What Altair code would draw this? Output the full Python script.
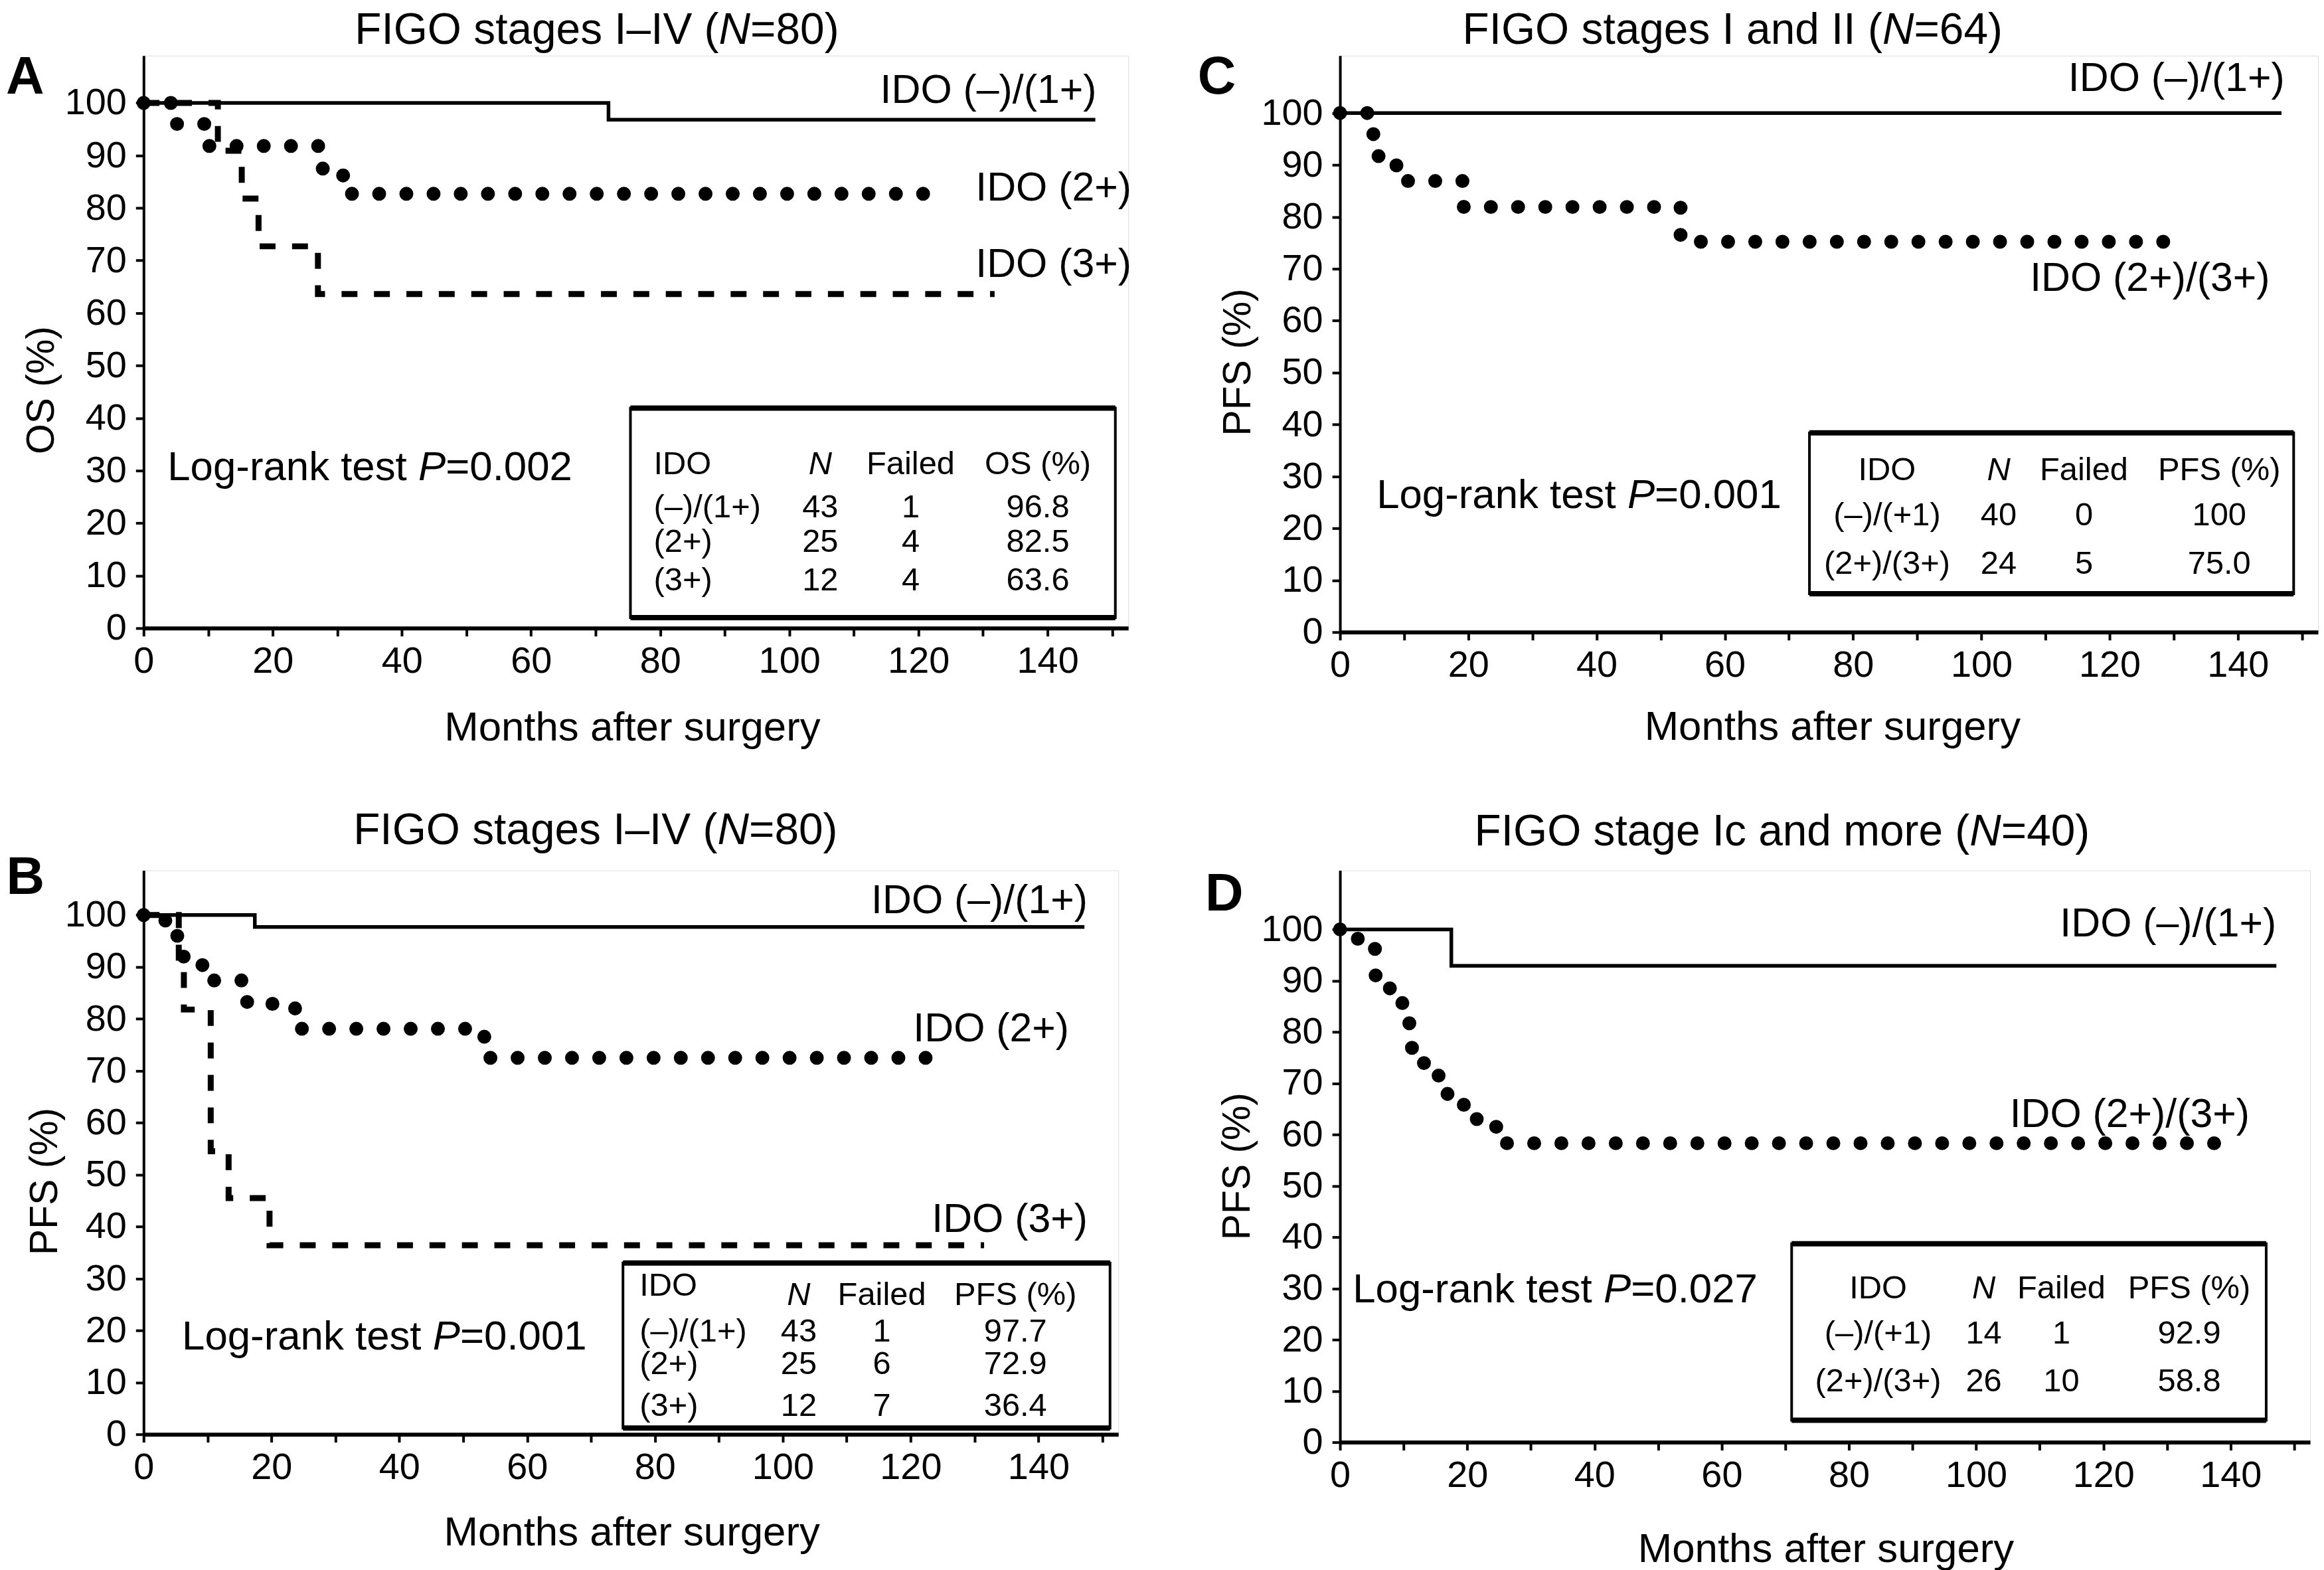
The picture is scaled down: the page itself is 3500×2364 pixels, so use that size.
import altair as alt
import pandas as pd

FONT = "Liberation Sans"

# ---------------- survival curves (months, percent) ----------------
A_NEG_T = [0, 72.0, 147.4]
A_NEG_S = [100, 96.8, 96.8]
A_2_T = [0, 4.6, 9.8, 27.5, 30.9, 122.0]
A_2_S = [100, 96.0, 91.8, 87.5, 82.7, 82.7]
A_3_T = [0, 11.5, 15.2, 17.8, 27.0, 131.8]
A_3_S = [100, 90.9, 81.8, 72.7, 63.6, 63.6]

B_NEG_T = [0, 17.4, 147.2]
B_NEG_S = [100, 97.7, 97.7]
B_2_T = [0, 3.4, 6.0, 9.2, 16.2, 23.7, 53.3, 124.0]
B_2_S = [100, 96.0, 92.0, 87.4, 82.9, 78.1, 72.5, 72.5]
B_3_T = [0, 5.5, 6.3, 10.5, 13.3, 19.7, 131.5]
B_3_S = [100, 90.9, 81.8, 54.5, 45.5, 36.4, 36.4]

C_NEG_T = [0, 146.8]
C_NEG_S = [100, 100]
C_POS_T = [0, 5.2, 6.0, 8.8, 19.3, 53.1, 132.0]
C_POS_S = [100, 95.8, 91.7, 86.9, 81.9, 75.2, 75.2]

D_NEG_T = [0, 17.5, 147.2]
D_NEG_S = [100, 92.9, 92.9]
D_POS_T = [0, 2.8, 5.6, 9.8, 10.9, 13.2, 15.5, 16.9, 21.5, 25.8, 138.3]
D_POS_S = [100, 96.2, 88.5, 84.6, 76.9, 73.1, 69.2, 65.8, 61.5, 58.3, 58.3]

# ---------------- tables ----------------
HEAD_OS = ["IDO", "N", "Failed", "OS (%)"]
HEAD_PFS = ["IDO", "N", "Failed", "PFS (%)"]
A_ROWS = [["(–)/(1+)", "43", "1", "96.8"], ["(2+)", "25", "4", "82.5"], ["(3+)", "12", "4", "63.6"]]
B_ROWS = [["(–)/(1+)", "43", "1", "97.7"], ["(2+)", "25", "6", "72.9"], ["(3+)", "12", "7", "36.4"]]
C_ROWS = [["(–)/(+1)", "40", "0", "100"], ["(2+)/(3+)", "24", "5", "75.0"]]
D_ROWS = [["(–)/(+1)", "14", "1", "92.9"], ["(2+)/(3+)", "26", "10", "58.8"]]

X_TICKS = list(range(0, 151, 10))
Y_TICKS = list(range(0, 101, 10))

PANELS = {
    "A": dict(
        curves=[("IDO (–)/(1+)", "solid", A_NEG_T, A_NEG_S),
                ("IDO (2+)", "dot", A_2_T, A_2_S),
                ("IDO (3+)", "dash", A_3_T, A_3_S)],
        title=[("FIGO stages I–IV (", False), ("N", True), ("=80)", False)],
        letter="A", ytitle="OS (%)", pval="0.002", head=HEAD_OS, rows=A_ROWS),
    "B": dict(
        curves=[("IDO (–)/(1+)", "solid", B_NEG_T, B_NEG_S),
                ("IDO (2+)", "dot", B_2_T, B_2_S),
                ("IDO (3+)", "dash", B_3_T, B_3_S)],
        title=[("FIGO stages I–IV (", False), ("N", True), ("=80)", False)],
        letter="B", ytitle="PFS (%)", pval="0.001", head=HEAD_PFS, rows=B_ROWS),
    "C": dict(
        curves=[("IDO (–)/(1+)", "solid", C_NEG_T, C_NEG_S),
                ("IDO (2+)/(3+)", "dot", C_POS_T, C_POS_S)],
        title=[("FIGO stages I and II (", False), ("N", True), ("=64)", False)],
        letter="C", ytitle="PFS (%)", pval="0.001", head=HEAD_PFS, rows=C_ROWS),
    "D": dict(
        curves=[("IDO (–)/(1+)", "solid", D_NEG_T, D_NEG_S),
                ("IDO (2+)/(3+)", "dot", D_POS_T, D_POS_S)],
        title=[("FIGO stage Ic and more (", False), ("N", True), ("=40)", False)],
        letter="D", ytitle="PFS (%)", pval="0.027", head=HEAD_PFS, rows=D_ROWS),
}

# ---------------- layout (positions in data units, sizes in px) ----------------
LAYOUT = {
    "A": dict(width=1488, height=865, ymax=109.0,
              title=(70.2, 111.2), letter=(-18.35, 101.8), ytitle=(-15.8, 45.3), xtitle=(75.7, -21.4),
              labels=[(147.6, 102.3), (153.0, 83.7), (153.0, 69.1)], logrank=(3.7, 30.6),
              box=(75.4, 150.5, 2.0, 41.9), col_x=[79.0, 104.8, 118.8, 138.5], first_align="left",
              head_y=[31.2, 31.2, 31.2, 31.2], row_y=[23.0, 16.4, 9.1]),
    "B": dict(width=1473, height=852, ymax=108.6,
              title=(70.7, 113.7), letter=(-18.5, 104.1), ytitle=(-15.4, 48.7), xtitle=(76.4, -21.4),
              labels=[(147.7, 102.6), (144.8, 78.0), (147.7, 41.2)], logrank=(6.0, 18.7),
              box=(75.0, 151.2, 1.2, 33.0), col_x=[77.6, 102.5, 115.5, 136.4], first_align="left",
              head_y=[28.6, 26.8, 26.8, 26.8], row_y=[19.8, 13.5, 5.4]),
    "C": dict(width=1478, height=871, ymax=111.05,
              title=(61.2, 113.3), letter=(-19.2, 103.7), ytitle=(-15.8, 52.0), xtitle=(76.8, -20.8),
              labels=[(147.3, 106.5), (145.0, 68.0)], logrank=(5.7, 26.3),
              box=(73.2, 148.7, 7.4, 38.4), col_x=[85.3, 102.7, 116.0, 137.1], first_align="center",
              head_y=[31.2, 31.2, 31.2, 31.2], row_y=[22.5, 13.2]),
    "D": dict(width=1466, height=864, ymax=111.5,
              title=(69.5, 116.4), letter=(-18.2, 103.7), ytitle=(-16.1, 53.8), xtitle=(76.4, -23.4),
              labels=[(147.2, 101.0), (143.0, 63.8)], logrank=(2.0, 29.7),
              box=(71.0, 145.6, 4.3, 38.7), col_x=[84.6, 101.2, 113.4, 133.5], first_align="center",
              head_y=[30.0, 30.0, 30.0, 30.0], row_y=[21.2, 11.8]),
}
XMAX = 152.5

# Arial / Liberation Sans advance widths (1/1000 em)
W = {' ': 278, '(': 333, ')': 333, '–': 556, '-': 333, '=': 584, '.': 278, '/': 278, '+': 584, '%': 889,
     'F': 611, 'I': 278, 'G': 778, 'O': 778, 'V': 667, 'N': 722, 'L': 556, 'P': 667, 'S': 667, 'D': 722,
     'M': 833, 'a': 556, 'c': 500, 'd': 556, 'e': 556, 'g': 556, 'k': 500, 'm': 833, 'n': 556, 'o': 556,
     'r': 333, 's': 500, 't': 278, 'i': 222, 'l': 222, 'f': 278, 'h': 556, 'u': 556, 'y': 500}


def tw(s, size):
    return sum(W.get(ch, 556) for ch in s) * size / 1000.0


def rec(t, s, text, size, align="left", baseline="middle", italic=False, bold=False, angle=0):
    return dict(t=t, s=s, text=text, size=size, italic=italic, bold=bold,
                align=align, baseline=baseline, angle=angle)


def rich(parts, t, s, size, align, baseline, ppm):
    total = sum(tw(p, size) for p, _ in parts)
    off = {"left": 0.0, "center": -total / 2.0, "right": -total}[align]
    out = []
    for p, it in parts:
        out.append(rec(t + off / ppm, s, p, size, "left", baseline, italic=it))
        off += tw(p, size)
    return out


def make_panel(key):
    P = PANELS[key]
    L = LAYOUT[key]
    ppm = L["width"] / XMAX

    xaxis = alt.Axis(values=X_TICKS, labelExpr="datum.value % 20 === 0 ? datum.label : ''",
                     title=None, grid=False, domainColor="black", domainWidth=6, tickColor="black",
                     tickWidth=4, tickSize=12, labelFont=FONT, labelFontSize=56, labelColor="black",
                     labelPadding=11, labelOverlap=False, labelFlush=False)
    yaxis = alt.Axis(values=Y_TICKS, title=None, grid=False, domainColor="black", domainWidth=4,
                     tickColor="black", tickWidth=4, tickSize=12, labelFont=FONT, labelFontSize=56,
                     labelColor="black", labelPadding=14, labelOverlap=False, labelFlush=False)
    xs = alt.Scale(domain=[0, XMAX], nice=False, zero=False)
    ys = alt.Scale(domain=[0, L["ymax"]], nice=False, zero=False)

    def X(f):
        return alt.X(f, scale=xs, axis=xaxis)

    def Y(f):
        return alt.Y(f, scale=ys, axis=yaxis)

    # curves
    rows = []
    for grp, style, ts, ss in P["curves"]:
        for i, (t, s) in enumerate(zip(ts, ss)):
            rows.append(dict(group=grp, style=style, t=t, s=s, i=i))
    cdf = pd.DataFrame(rows)
    base = alt.Chart(cdf)
    layers = []
    styles = {
        "solid": dict(strokeWidth=5.5, strokeCap="butt"),
        "dash": dict(strokeWidth=9, strokeDash=[24, 25], strokeCap="butt"),
        "dot": dict(strokeWidth=21, strokeDash=[0.1, 41], strokeCap="round"),
    }
    for st in ["solid", "dash", "dot"]:
        if st not in set(cdf["style"]):
            continue
        layers.append(
            base.transform_filter(alt.datum.style == st)
            .mark_line(interpolate="step-after", color="black", **styles[st])
            .encode(x=X("t:Q"), y=Y("s:Q"), detail="group:N", order="i:Q")
        )

    # table box
    x0, x1, y0, y1 = L["box"]
    bdf = pd.DataFrame([dict(t0=x0, t1=x1, s0=y0, s1=y1)])
    layers.append(alt.Chart(bdf).mark_rect(fillOpacity=0, stroke="black", strokeWidth=4)
                  .encode(x=X("t0:Q"), x2="t1:Q", y=Y("s0:Q"), y2="s1:Q"))
    rdf = pd.DataFrame([dict(t0=x0, t1=x1, s=y0), dict(t0=x0, t1=x1, s=y1)])
    layers.append(alt.Chart(rdf).mark_rule(stroke="black", strokeWidth=8)
                  .encode(x=X("t0:Q"), x2="t1:Q", y=Y("s:Q")))

    # texts
    T = []
    T += rich(P["title"], L["title"][0], L["title"][1], 66, "center", "alphabetic", ppm)
    T.append(rec(L["letter"][0], L["letter"][1], P["letter"], 80, "center", "alphabetic", bold=True))
    T.append(rec(L["ytitle"][0], L["ytitle"][1], P["ytitle"], 59, "center", "middle", angle=270))
    T.append(rec(L["xtitle"][0], L["xtitle"][1], "Months after surgery", 62, "center", "alphabetic"))
    for (grp, _, _, _), (lx, ly) in zip(P["curves"], L["labels"]):
        T.append(rec(lx, ly, grp, 61, "right", "middle"))
    T += rich([("Log-rank test ", False), ("P", True), ("=" + P["pval"], False)],
              L["logrank"][0], L["logrank"][1], 62, "left", "middle", ppm)
    cx = L["col_x"]
    for j, h in enumerate(P["head"]):
        al = L["first_align"] if j == 0 else "center"
        T.append(rec(cx[j], L["head_y"][j], h, 49, al, "middle", italic=(h == "N")))
    for r, ry in zip(P["rows"], L["row_y"]):
        for j, v in enumerate(r):
            al = L["first_align"] if j == 0 else "center"
            T.append(rec(cx[j], ry, v, 49, al, "middle"))

    tdf = pd.DataFrame(T)
    for k, g in tdf.groupby(["size", "italic", "bold", "align", "baseline", "angle"]):
        size, italic, bold, align, baseline, angle = k
        layers.append(
            alt.Chart(g[["t", "s", "text"]].reset_index(drop=True)).mark_text(
                font=FONT, fontSize=float(size), fontStyle="italic" if bool(italic) else "normal",
                fontWeight="bold" if bool(bold) else "normal", align=str(align),
                baseline=str(baseline), angle=float(angle), color="black")
            .encode(x=X("t:Q"), y=Y("s:Q"), text="text:N")
        )

    return alt.layer(*layers).properties(width=L["width"], height=L["height"])


chart = alt.concat(
    make_panel("A"), make_panel("C"), make_panel("B"), make_panel("D"),
    columns=2, spacing={"row": 360, "column": 320}, bounds="flush",
).properties(
    padding={"left": 0, "top": 0, "right": 0, "bottom": 0}
).configure_view(stroke=None).configure(background="white")

chart.save("out.html", embed_options={"renderer": "svg", "actions": False})
